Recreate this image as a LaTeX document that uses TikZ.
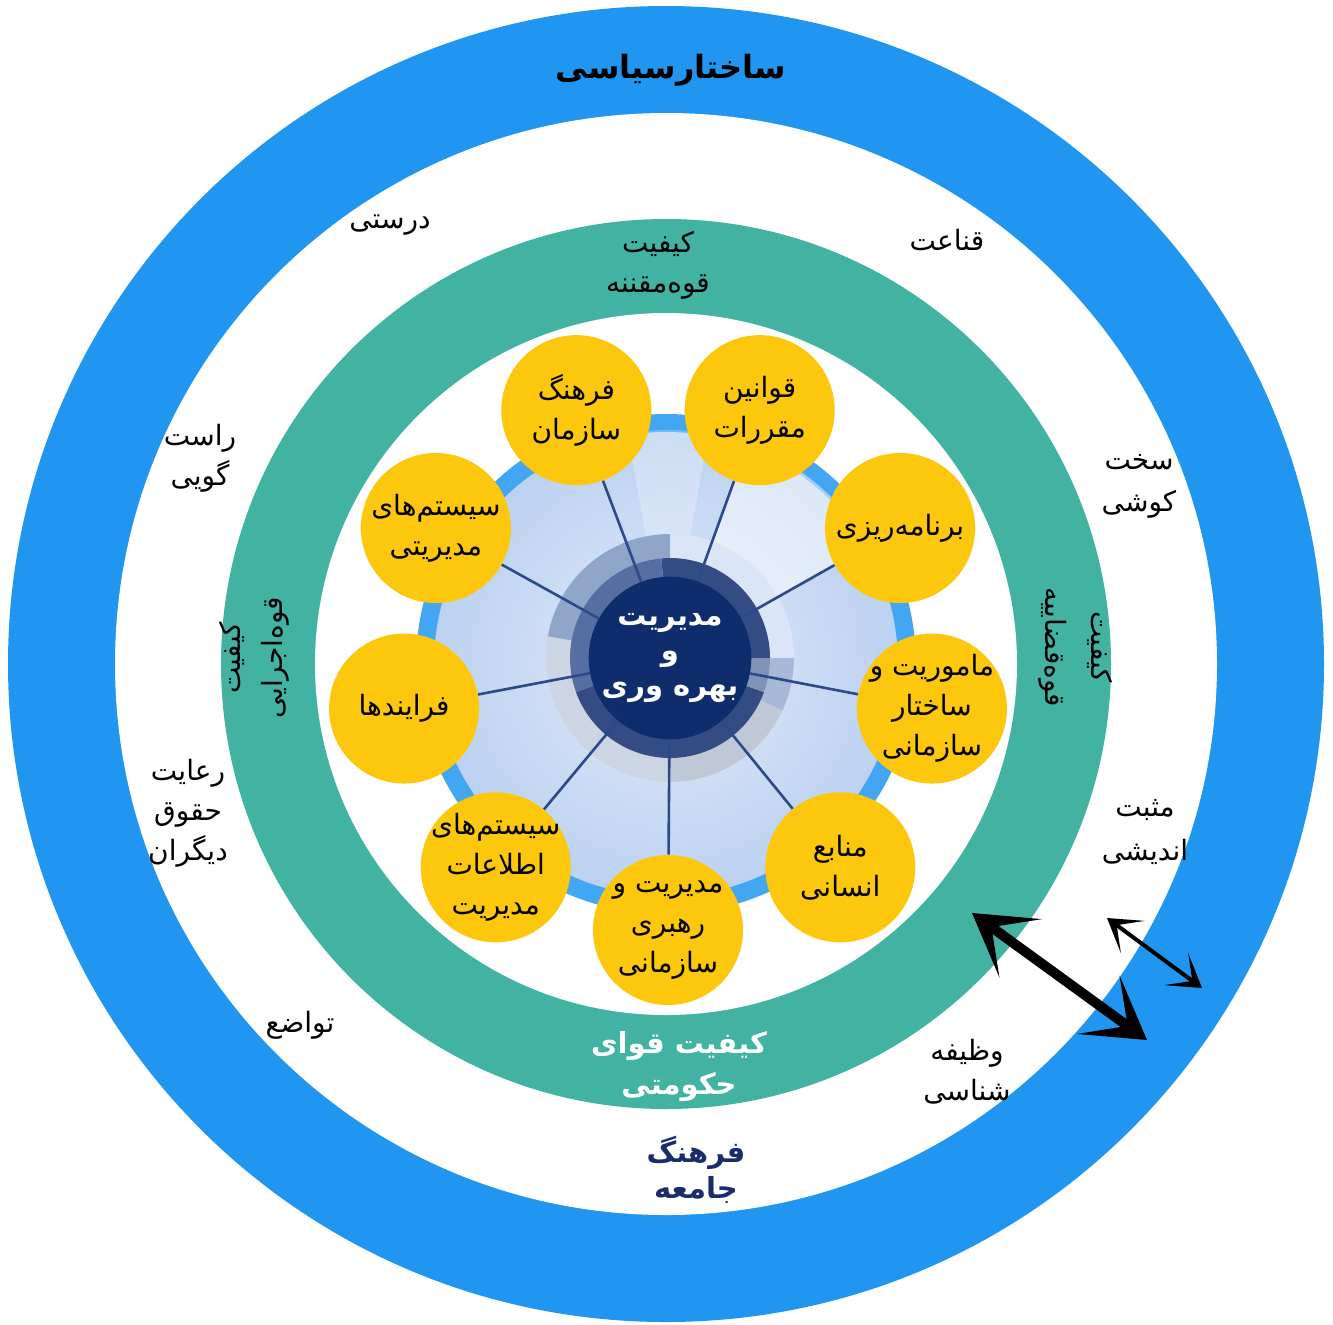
\documentclass[tikz,border=0pt]{standalone}
\usepackage{fontspec}
\usetikzlibrary{calc,arrows.meta}
\TeXXeTstate=1
\newfontfamily\arab[Script=Arabic]{DejaVu Sans}
\newcommand\fa[1]{\beginR #1\endR}
\definecolor{ringblue}{HTML}{2196F0}
\definecolor{ringgreen}{HTML}{42B3A2}
\definecolor{yel}{HTML}{FCC70C}
\definecolor{navy}{HTML}{0F2D6D}
\definecolor{spoke}{HTML}{2C4A8A}
\definecolor{discout}{HTML}{BCD2F1}
\definecolor{discin}{HTML}{E0EAF8}
\definecolor{textnavy}{HTML}{1B2C6B}
\newcommand\annsec[5]{\fill[#1] ($(k)+(#2:#4)$) arc[start angle=#2, end angle=#3, radius=#4] -- ($(k)+(#3:#5)$) arc[start angle=#3, end angle=#2, radius=#5] -- cycle;}
\tikzset{
  yc/.style={circle, fill=yel, minimum size=75pt, inner sep=0pt},
  yct/.style={align=center, inner sep=0pt, font=\arab\fontsize{14}{20}\selectfont},
  lbl/.style={align=center, inner sep=0pt, font=\arab\fontsize{14}{20}\selectfont},
  spk/.style={draw=spoke, line width=1.3pt},
  bigarrow/.style={line width=5pt, {Stealth[length=30pt,width=36pt,inset=18pt]}-{Stealth[length=30pt,width=36pt,inset=18pt]}},
  smallarrow/.style={line width=2pt, {Stealth[length=16pt,width=20pt,inset=10pt]}-{Stealth[length=16pt,width=20pt,inset=10pt]}},
}
\begin{document}
\begin{tikzpicture}[x=0.5pt,y=-0.5pt]
\useasboundingbox (0,0) rectangle (1333,1324);
\fill[white] (0,0) rectangle (1333,1324);
\coordinate (c) at (666,664);
\coordinate (cy) at (668,662);
\coordinate (k) at (670,658);
% rings
\fill[ringblue] (c) circle[radius=329pt];
\fill[white] (c) circle[radius=275.5pt];
\fill[ringgreen] (c) circle[radius=222.5pt];
\fill[white] (c) circle[radius=175.5pt];
% inner disc
\fill[ringblue!85!white] (c) circle[radius=125pt];
\shade[inner color=discin, outer color=discout] (c) circle[radius=116pt];
\fill[white, opacity=0.5] (cy) -- ++(30:116pt) arc[start angle=30, end angle=70, radius=116pt] -- cycle;
\fill[white, opacity=0.25] (cy) -- ++(80:116pt) arc[start angle=80, end angle=100, radius=116pt] -- cycle;
% central segmented rings
\annsec{discout!55!white}{0}{90}{62pt}{50pt}
\annsec{black!10!discout!80!spoke}{90}{170}{62pt}{50pt}
\annsec{discout!70!gray!60!white}{170}{270}{62pt}{50pt}
\annsec{discout!60!gray!70!white}{270}{335}{62pt}{50pt}
\annsec{discout!60!spoke!70!white}{335}{360}{62pt}{50pt}
\annsec{navy!85!white}{0}{95}{50pt}{40pt}
\annsec{spoke!80!white}{95}{200}{50pt}{40pt}
\annsec{navy!85!white}{200}{340}{50pt}{40pt}
\annsec{spoke!60!white}{340}{360}{50pt}{40pt}
% core and satellites
\node[circle, fill=navy, minimum size=80pt, inner sep=0pt, align=center, text=white,
      font=\arab\bfseries\fontsize{14.5}{17.5}\selectfont] (core) at (k)
      {\beginR مدیریت\endR\\\beginR و\endR\\\beginR بهره وری\endR};
\node[yc, label={[yct]center:{\beginR قوانین\endR\\\beginR مقررات\endR}}] (y1) at ($(cy)+(70:134pt)$) {};
\node[yc, label={[yct]center:{\beginR فرهنگ\endR\\\beginR سازمان\endR}}] (y2) at ($(cy)+(110:134pt)$) {};
\node[yc, label={[yct]center:{\beginR برنامه‌ریزی\endR}}] (y3) at ($(cy)+(30:134pt)$) {};
\node[yc, label={[yct]center:{\beginR سیستم‌های\endR\\\beginR مدیریتی\endR}}] (y4) at ($(cy)+(150:134pt)$) {};
\node[yc, label={[yct]center:{\beginR ماموریت و\endR\\\beginR ساختار\endR\\\beginR سازمانی\endR}}] (y5) at ($(cy)+(-10:134pt)$) {};
\node[yc, label={[yct]center:{\beginR فرایندها\endR}}] (y6) at ($(cy)+(190:134pt)$) {};
\node[yc, label={[yct]center:{\beginR منابع\endR\\\beginR انسانی\endR}}] (y7) at ($(cy)+(-50:134pt)$) {};
\node[yc, label={[yct]center:{\beginR سیستم‌های\endR\\\beginR اطلاعات\endR\\\beginR مدیریت\endR}}] (y8) at ($(cy)+(230:134pt)$) {};
\node[yc, label={[yct]center:{\beginR مدیریت و\endR\\\beginR رهبری\endR\\\beginR سازمانی\endR}}] (y9) at ($(cy)+(-90:134pt)$) {};
\foreach \i in {1,...,9} { \draw[spk] (core) -- (y\i); }
% ring labels
\node[lbl, font=\arab\bfseries\fontsize{16}{20}\selectfont] (tsiyasi) at (671,70) {\beginR ساختارسیاسی\endR};
\node[lbl] (tdorosti) at (390,225) {\beginR درستی\endR};
\node[lbl] (tghenaat) at (947,240) {\beginR قناعت\endR};
\node[lbl] (tmoghanne) at (658,265) {\beginR کیفیت\endR\\\beginR قوه‌مقننه\endR};
\node[lbl] (trast) at (200,458) {\beginR راست\endR\\\beginR گویی\endR};
\node[lbl, font=\arab\fontsize{14}{21}\selectfont] (tsakht) at (1139,486) {\beginR سخت\endR\\\beginR کوشی\endR};
\node[lbl, rotate=90, font=\arab\fontsize{14}{21}\selectfont] (tejraei) at (254,658) {\beginR کیفیت\endR\\\beginR قوه‌اجرایی\endR};
\node[lbl, rotate=-90, font=\arab\fontsize{14}{23}\selectfont] (tghazaei) at (1076,647) {\beginR کیفیت\endR\\\beginR قوه‌قضاییه\endR};
\node[lbl] (treayat) at (188,813) {\beginR رعایت\endR\\\beginR حقوق\endR\\\beginR دیگران\endR};
\node[lbl, font=\arab\fontsize{14}{22}\selectfont] (tmosbat) at (1145,832) {\beginR مثبت\endR\\\beginR اندیشی\endR};
\node[lbl] (ttavazo) at (300,1025) {\beginR تواضع\endR};
\node[lbl] (tvazife) at (967,1072) {\beginR وظیفه\endR\\\beginR شناسی\endR};
\node[lbl, text=white, font=\arab\bfseries\fontsize{14.5}{20.5}\selectfont] (thokumati) at (679,1067) {\beginR کیفیت قوای\endR\\\beginR حکومتی\endR};
\node[lbl, text=textnavy, font=\arab\bfseries\fontsize{14.5}{18}\selectfont] (tjameh) at (696,1170) {\beginR فرهنگ\endR\\\beginR جامعه\endR};
% arrows
\coordinate (a1) at (972,913);
\coordinate (a2) at (1147,1040);
\coordinate (b1) at (1107,918);
\coordinate (b2) at (1202,988);
\draw[bigarrow] (a1) -- (a2);
\draw[smallarrow] (b1) -- (b2);
\end{tikzpicture}
\end{document}
